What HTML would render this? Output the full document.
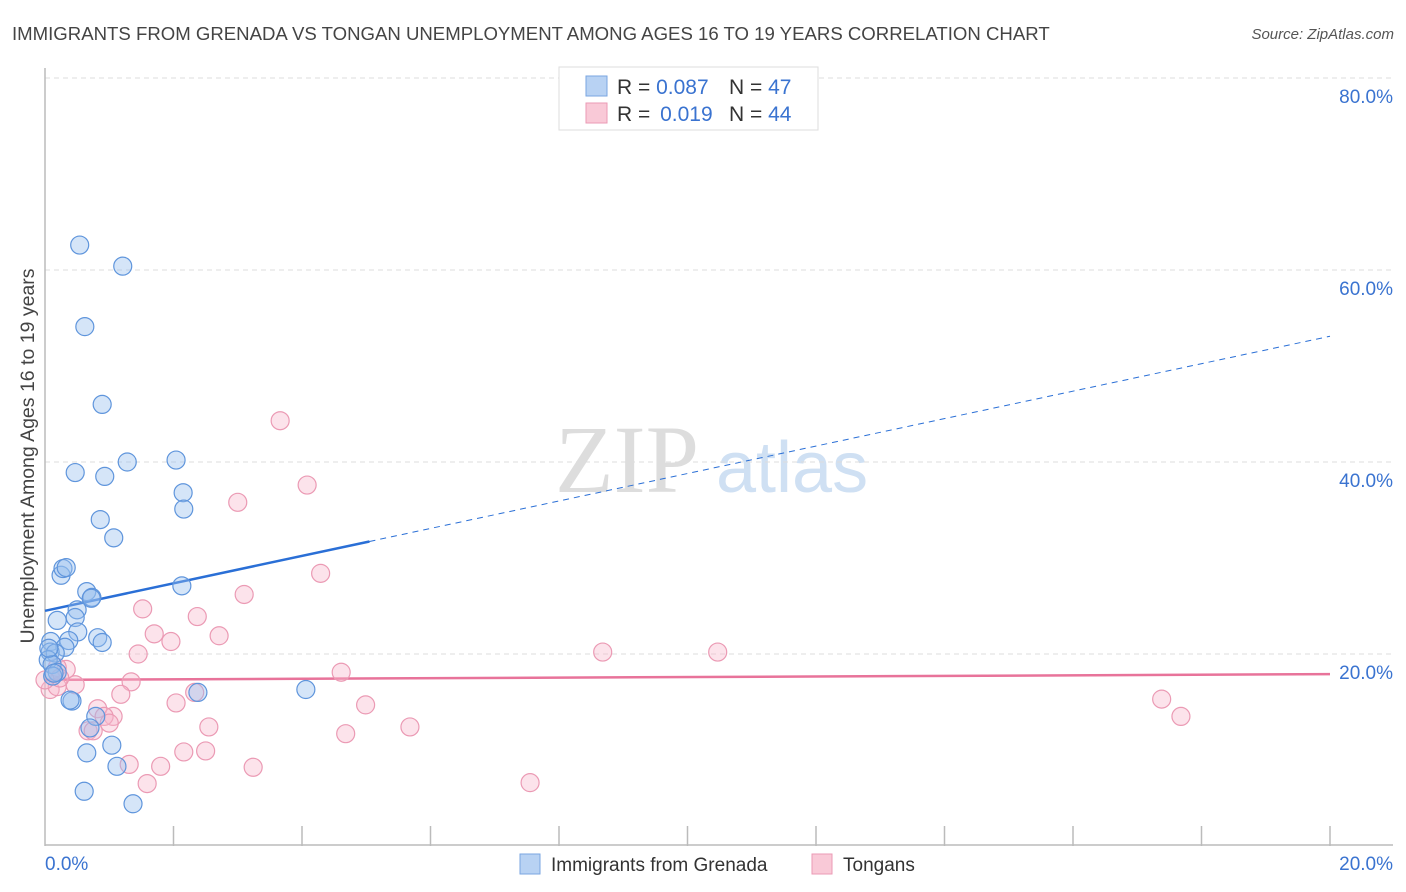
<!DOCTYPE html>
<html><head><meta charset="utf-8"><style>
body{margin:0;background:#fff;font-family:"Liberation Sans",sans-serif;}
svg{display:block}
</style></head><body>
<svg id="chart" width="1406" height="892" xmlns="http://www.w3.org/2000/svg">
<text x="12" y="40" font-size="18.6" fill="#444">IMMIGRANTS FROM GRENADA VS TONGAN UNEMPLOYMENT AMONG AGES 16 TO 19 YEARS CORRELATION CHART</text>
<text x="1394" y="39" font-size="15" fill="#555" text-anchor="end" font-style="italic">Source: ZipAtlas.com</text>
<text transform="translate(34,456) rotate(-90)" font-size="19.5" fill="#444" text-anchor="middle">Unemployment Among Ages 16 to 19 years</text>
<g><text x="555" y="492" font-size="96" fill="#ddd" font-family="Liberation Serif,serif">ZIP</text><text x="716" y="492" font-size="72" fill="#cfe0f3">atlas</text></g>
<g id="grid"></g><g id="axes"></g><g id="lines"></g><g id="pts"></g>
<g>
<rect x="559" y="67" width="259" height="63" fill="#fff" stroke="#ddd"/>
<rect x="586" y="76" width="21" height="20" fill="#b8d2f3" stroke="#7aa6e0"/>
<rect x="586" y="103" width="21" height="20" fill="#f9c9d7" stroke="#eb9ab4"/>
<text x="617" y="94" font-size="21" fill="#333">R = <tspan fill="#3a73d0">0.087</tspan><tspan x="729">N = </tspan><tspan fill="#3a73d0">47</tspan></text>
<text x="617" y="121" font-size="21" fill="#333">R = <tspan fill="#3a73d0" dx="4">0.019</tspan><tspan x="729">N = </tspan><tspan fill="#3a73d0">44</tspan></text>
</g>
<g>
<rect x="520" y="854" width="20" height="20" fill="#b8d2f3" stroke="#7aa6e0"/>
<text x="551" y="871" font-size="19" fill="#333">Immigrants from Grenada</text>
<rect x="812" y="854" width="20" height="20" fill="#f9c9d7" stroke="#eb9ab4"/>
<text x="843" y="871" font-size="19" fill="#333">Tongans</text>
</g>
</svg>
<script>
const yTicks=[20,40,60,80];
const xTickLabels=["0.0%","20.0%"];
const blueX=[0.54,1.21,0.62,0.89,0.47,0.93,1.28,2.04,2.15,2.16,0.86,1.07,0.25,0.28,0.33,2.13,0.65,0.73,0.72,0.5,0.19,0.47,0.51,0.37,0.82,0.89,0.09,0.31,0.08,0.16,0.05,0.11,0.19,2.38,4.06,0.42,0.39,0.79,0.7,1.04,0.65,1.12,0.61,1.37,0.06,0.12,0.14];
const blueY=[62.6,60.4,54.1,46.0,38.9,38.5,40.0,40.2,36.8,35.1,34.0,32.1,28.2,28.9,29.0,27.1,26.5,25.9,25.8,24.6,23.5,23.8,22.3,21.4,21.7,21.2,21.3,20.7,20.2,20.1,19.4,18.9,18.1,16.0,16.3,15.1,15.2,13.5,12.3,10.5,9.7,8.3,5.7,4.4,20.6,17.7,18.0];
const pinkX=[3.66,3.0,4.08,4.29,3.1,1.52,2.37,1.7,2.71,1.96,1.45,8.68,10.47,4.61,0.33,1.34,0.08,0.19,0.47,2.33,1.18,4.99,2.04,17.38,17.68,0.82,1.06,0.92,1.0,2.55,5.68,0.67,0.75,4.68,2.16,2.5,1.31,1.8,3.24,1.59,7.55,0.19,0.23,0.0];
const pinkY=[44.3,35.8,37.6,28.4,26.2,24.7,23.9,22.1,21.9,21.3,20.0,20.2,20.2,18.1,18.4,17.1,16.3,16.6,16.8,16.0,15.8,14.7,14.9,15.3,13.5,14.3,13.5,13.5,12.8,12.4,12.4,12.0,12.0,11.7,9.8,9.9,8.5,8.3,8.2,6.5,6.6,18.6,17.5,17.3];
const blueTrend=[24.5,53.1];
const pinkTrend=[17.3,17.9];
const NS="http://www.w3.org/2000/svg";
const sx=v=>45+v/20*1285, sy=v=>846-v/20*192;
function mk(tag,at,parent){const e=document.createElementNS(NS,tag);for(const k in at)e.setAttribute(k,at[k]);document.getElementById(parent).appendChild(e);return e;}
yTicks.forEach(t=>{
 const l=mk('line',{x1:45,x2:1393,y1:sy(t),y2:sy(t),stroke:'#ddd','stroke-dasharray':'5,4'},'grid');
 
 
 const tx=mk('text',{x:1393,y:sy(t)+25,'font-size':19,fill:'#3a73d0','text-anchor':'end'},'grid');
 tx.textContent=t.toFixed(1)+'%';
 
 
});
const ax=mk('line',{x1:45,x2:1393,y1:845,y2:845,stroke:'#bbb','stroke-width':1.5},'axes');


const ay=mk('line',{x1:45,x2:45,y1:68,y2:846,stroke:'#bbb','stroke-width':1.5},'axes');


for(let i=1;i<=10;i++){const t=mk('line',{x1:sx(i*2),x2:sx(i*2),y1:826,y2:846,stroke:'#bbb','stroke-width':1.5},'axes');
 
 }
[[0,'start',45],[20,'end',1393]].forEach((d,i)=>{const t=mk('text',{x:d[2],y:870,'font-size':19,fill:'#3a73d0','text-anchor':d[1]},'axes');t.textContent=xTickLabels[i];
 
 });
function pts(X,Y,fill,stroke,name){X.forEach((x,i)=>{const c=mk('circle',{cx:sx(x),cy:sy(Y[i]),r:9,fill:fill,stroke:stroke,'stroke-width':1.2},'pts');
 
 });}
pts(pinkX,pinkY,'rgba(248,185,205,0.4)','#eb9ab4','tongan-point');
pts(blueX,blueY,'rgba(150,190,238,0.4)','#5f95dc','grenada-point');
const yb=x=>blueTrend[0]+(blueTrend[1]-blueTrend[0])*x/20;
const b1=mk('line',{x1:sx(0),y1:sy(yb(0)),x2:sx(5.05),y2:sy(yb(5.05)),stroke:'#2a6fd6','stroke-width':2.5},'lines');


const b2=mk('line',{x1:sx(5.05),y1:sy(yb(5.05)),x2:sx(20),y2:sy(yb(20)),stroke:'#2a6fd6','stroke-width':1,'stroke-dasharray':'6,5'},'lines');


const p1=mk('line',{x1:sx(0),y1:sy(pinkTrend[0]),x2:sx(20),y2:sy(pinkTrend[1]),stroke:'#e8739a','stroke-width':2.5},'lines');


</script>
</body></html>
